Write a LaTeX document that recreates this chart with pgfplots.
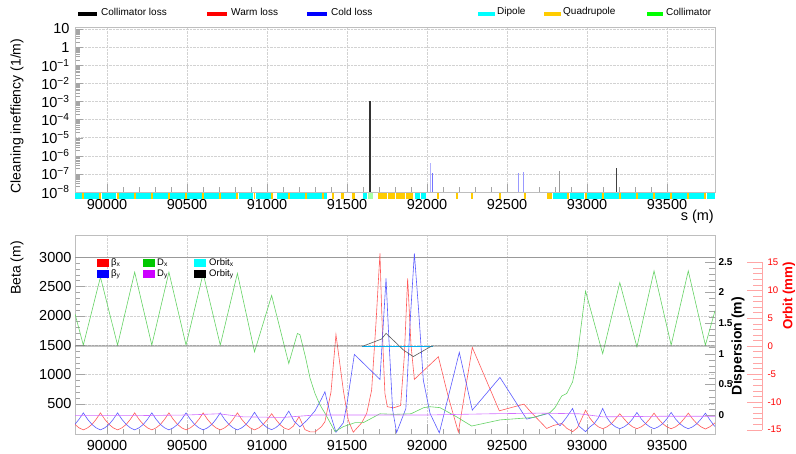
\documentclass[border=0pt]{standalone}
\usepackage{fontspec}
\setmainfont{Liberation Sans}
\usepackage{pgfplots}
\pgfplotsset{compat=1.18}
\definecolor{framegray}{RGB}{190,190,190}
\definecolor{tickgray}{RGB}{165,165,165}
\definecolor{quadorange}{RGB}{255,204,0}
\definecolor{dipcyan}{RGB}{0,255,255}
\definecolor{bxred}{RGB}{255,90,90}
\definecolor{byblue}{RGB}{90,90,255}
\definecolor{dxgreen}{RGB}{100,210,100}
\definecolor{dymag}{RGB}{210,110,255}
\definecolor{legmag}{RGB}{204,0,255}
\definecolor{leggreen}{RGB}{0,200,0}
\definecolor{colgreen}{RGB}{0,255,0}
\begin{document}
\begin{tikzpicture}
\useasboundingbox (0pt,0pt) rectangle (796pt,453pt);
% ---------------- top panel ----------------
\begin{axis}[at={(75pt,261pt)}, anchor=south west, scale only axis, width=640pt, height=165pt,
 xmin=89800, xmax=93800, ymode=log, ymin=1e-8, ymax=12.9,
 axis line style={framegray},
 xtick={90000,90500,91000,91500,92000,92500,93000,93500},
 xticklabels={90000,90500,91000,91500,92000,92500,93000,93500},
 minor x tick num=4, scaled x ticks=false,
 ytick={1e-8,1e-7,1e-6,1e-5,1e-4,1e-3,1e-2,1e-1,1,10},
 yticklabels={10\textsuperscript{−8},10\textsuperscript{−7},10\textsuperscript{−6},10\textsuperscript{−5},10\textsuperscript{−4},10\textsuperscript{−3},10\textsuperscript{−2},10\textsuperscript{−1},1,10},
 minor ytick={2e-8,3e-8,4e-8,5e-8,6e-8,7e-8,8e-8,9e-8,2e-7,3e-7,4e-7,5e-7,6e-7,7e-7,8e-7,9e-7,2e-6,3e-6,4e-6,5e-6,6e-6,7e-6,8e-6,9e-6,2e-5,3e-5,4e-5,5e-5,6e-5,7e-5,8e-5,9e-5,2e-4,3e-4,4e-4,5e-4,6e-4,7e-4,8e-4,9e-4,2e-3,3e-3,4e-3,5e-3,6e-3,7e-3,8e-3,9e-3,2e-2,3e-2,4e-2,5e-2,6e-2,7e-2,8e-2,9e-2,0.2,0.3,0.4,0.5,0.6,0.7,0.8,0.9,2,3,4,5,6,7,8,9},
 xtick pos=left, ytick pos=left, tick align=inside,
 major tick length=8pt, minor tick length=5pt, tick style={tickgray},
 grid=major, major grid style={densely dotted, gray!35},
 tick label style={font=\fontsize{14.5}{16}\selectfont},
 xticklabel style={yshift=-4pt}, yticklabel style={xshift=-2pt},
]
\addplot[black!80, line width=1.1pt] coordinates {(91644,1e-8) (91644,1e-3)};
\addplot[black!75, line width=0.8pt] coordinates {(93183,1e-8) (93183,2.2e-7)};
\addplot[black!40, line width=0.8pt] coordinates {(92827,1e-8) (92827,1.5e-7)};
\addplot[blue!30, line width=0.8pt] coordinates {(92019,1e-8) (92019,4e-7)};
\addplot[blue!55, line width=0.8pt] coordinates {(92033,1e-8) (92033,1.1e-7)};
\addplot[blue!40, line width=0.8pt] coordinates {(92571,1e-8) (92571,1.1e-7)};
\addplot[blue!40, line width=0.8pt] coordinates {(92602,1e-8) (92602,1.3e-7)};
\end{axis}
% ---------------- element bars ----------------
\begin{axis}[at={(75pt,254pt)}, anchor=south west, scale only axis, width=640pt, height=6pt,
 xmin=89800, xmax=93800, ymin=0, ymax=1, hide axis, clip=false]
\addplot[dipcyan, line width=5.5pt, line cap=butt, unbounded coords=jump] coordinates {
(89800,0.5) (89845,0.5) (89845,nan) (89859,0.5) (89952,0.5) (89952,nan)
(89966,0.5) (90059,0.5) (90059,nan) (90073,0.5) (90166,0.5) (90166,nan)
(90180,0.5) (90273,0.5) (90273,nan) (90287,0.5) (90380,0.5) (90380,nan)
(90394,0.5) (90487,0.5) (90487,nan) (90501,0.5) (90594,0.5) (90594,nan)
(90608,0.5) (90701,0.5) (90701,nan) (90715,0.5) (90808,0.5) (90808,nan)
(90822,0.5) (90915,0.5) (90915,nan) (90929,0.5) (91022,0.5) (91022,nan)
(91062,0.5) (91129,0.5) (91129,nan) (91143,0.5) (91236,0.5) (91236,nan)
(91250,0.5) (91343,0.5) (91343,nan) (91357,0.5) (91373,0.5) (91373,nan)
(91598,0.5) (91627,0.5) (91627,nan) (91925,0.5) (91956,0.5) (91956,nan)
(91962,0.5) (91992,0.5) (91992,nan) (92790,0.5) (92877,0.5) (92877,nan)
(92891,0.5) (92984,0.5) (92984,nan) (92998,0.5) (93091,0.5) (93091,nan)
(93105,0.5) (93198,0.5) (93198,nan) (93212,0.5) (93305,0.5) (93305,nan)
(93319,0.5) (93412,0.5) (93412,nan) (93426,0.5) (93519,0.5) (93519,nan)
(93533,0.5) (93626,0.5) (93626,nan) (93640,0.5) (93733,0.5) (93733,nan)
(93747,0.5) (93800,0.5)};
\addplot[quadorange, line width=5.5pt, line cap=butt, unbounded coords=jump] coordinates {
(89846,0.5) (89858,0.5) (89858,nan) (89953,0.5) (89965,0.5) (89965,nan)
(90060,0.5) (90072,0.5) (90072,nan) (90167,0.5) (90179,0.5) (90179,nan)
(90274,0.5) (90286,0.5) (90286,nan) (90381,0.5) (90393,0.5) (90393,nan)
(90488,0.5) (90500,0.5) (90500,nan) (90595,0.5) (90607,0.5) (90607,nan)
(90702,0.5) (90714,0.5) (90714,nan) (90809,0.5) (90821,0.5) (90821,nan)
(90916,0.5) (90928,0.5) (90928,nan) (91023,0.5) (91035,0.5) (91035,nan)
(91130,0.5) (91142,0.5) (91142,nan) (91237,0.5) (91249,0.5) (91249,nan)
(91344,0.5) (91356,0.5) (91356,nan) (91404,0.5) (91420,0.5) (91420,nan)
(91465,0.5) (91481,0.5) (91481,nan) (91532,0.5) (91548,0.5) (91548,nan)
(91694,0.5) (91750,0.5) (91750,nan) (91758,0.5) (91800,0.5) (91800,nan)
(91808,0.5) (91860,0.5) (91860,nan) (91868,0.5) (91915,0.5) (91915,nan)
(92065,0.5) (92077,0.5) (92077,nan) (92179,0.5) (92191,0.5) (92191,nan)
(92273,0.5) (92285,0.5) (92285,nan) (92450,0.5) (92462,0.5) (92462,nan)
(92606,0.5) (92618,0.5) (92618,nan) (92750,0.5) (92783,0.5) (92783,nan)
(92878,0.5) (92890,0.5) (92890,nan) (92985,0.5) (92997,0.5) (92997,nan)
(93092,0.5) (93104,0.5) (93104,nan) (93199,0.5) (93211,0.5) (93211,nan)
(93306,0.5) (93318,0.5) (93318,nan) (93413,0.5) (93425,0.5) (93425,nan)
(93520,0.5) (93532,0.5) (93532,nan) (93627,0.5) (93639,0.5) (93639,nan)
(93734,0.5) (93746,0.5)};
\addplot[colgreen!35, line width=5.5pt, line cap=butt] coordinates {(91632,0.5) (91662,0.5)};
\end{axis}
% ---------------- bottom panel: beta ----------------
\begin{axis}[at={(75pt,19pt)}, anchor=south west, scale only axis, width=640pt, height=199pt,
 xmin=89800, xmax=93800, ymin=-15, ymax=3375,
 axis line style={framegray},
 xtick={90000,90500,91000,91500,92000,92500,93000,93500},
 xticklabels={90000,90500,91000,91500,92000,92500,93000,93500},
 minor x tick num=4, scaled ticks=false,
 ytick={500,1000,1500,2000,2500,3000}, yticklabels={500,1000,1500,2000,2500,3000},
 minor y tick num=4,
 xtick pos=left, ytick pos=left, tick align=inside,
 major tick length=10pt, minor tick length=5pt, tick style={tickgray},
 grid=major, major grid style={densely dotted, gray!35},
 tick label style={font=\fontsize{14.5}{16}\selectfont},
 xticklabel style={yshift=-3pt},
]
\addplot[gray!80, line width=0.6pt] coordinates {(89800,3000) (93800,3000)};
\addplot[bxred, line width=0.6pt] coordinates {
(89800,148) (89825,90) (89852,55) (89879,90) (89906,148) (89932,235) (89959,345) (89986,235)
(90013,148) (90039,90) (90066,55) (90093,90) (90120,148) (90146,235) (90173,345) (90200,235)
(90227,148) (90253,90) (90280,55) (90307,90) (90334,148) (90360,235) (90387,345) (90414,235)
(90441,148) (90467,90) (90494,55) (90521,90) (90548,148) (90574,235) (90601,345) (90628,235)
(90655,148) (90681,90) (90708,55) (90735,90) (90762,148) (90788,235) (90815,345) (90842,235)
(90869,148) (90895,90) (90922,55) (90949,90) (90976,148) (91002,230) (91029,330) (91056,230)
(91083,140) (91109,85) (91136,60) (91165,120) (91200,280) (91237,60) (91270,20) (91300,20)
(91340,110) (91362,193) (91400,700) (91431,1680) (91477,733) (91508,221) (91539,15) (91592,176)
(91623,335) (91654,733) (91681,1869) (91706,3063) (91716,2153) (91727,1301) (91737,676) (91752,450)
(91790,430) (91835,470) (91858,1300) (91879,2636) (91900,1500) (91921,915) (92071,1301) (92133,619)
(92196,15) (92283,1460) (92452,380) (92606,494) (92644,375) (92748,79) (92790,130) (92842,165)
(92875,80) (92910,25) (92940,90) (92964,230) (92991,390) (93018,255) (93045,165) (93071,107)
(93098,75) (93125,107) (93152,161) (93178,242) (93205,330) (93232,242) (93259,161) (93285,107)
(93312,75) (93339,107) (93366,161) (93392,242) (93419,340) (93446,242) (93473,161) (93499,107)
(93526,75) (93553,107) (93580,161) (93606,242) (93633,340) (93660,242) (93687,161) (93713,107)
(93740,70) (93767,107) (93794,161) (93800,175)};
\addplot[byblue, line width=0.6pt] coordinates {
(89800,150) (89825,235) (89852,345) (89879,235) (89906,148) (89932,90) (89959,55) (89986,90)
(90013,148) (90039,235) (90066,345) (90093,235) (90120,148) (90146,90) (90173,55) (90200,90)
(90227,148) (90253,235) (90280,345) (90307,235) (90334,148) (90360,90) (90387,55) (90414,90)
(90441,148) (90467,235) (90494,345) (90521,235) (90548,148) (90574,90) (90601,55) (90628,90)
(90655,148) (90681,235) (90708,345) (90735,235) (90762,148) (90788,90) (90815,55) (90842,90)
(90869,148) (90895,240) (90922,355) (90949,240) (90976,150) (91002,92) (91029,58) (91056,95)
(91083,160) (91109,260) (91136,375) (91170,200) (91206,107) (91250,220) (91300,380) (91340,580)
(91362,704) (91395,330) (91431,15) (91477,176) (91500,500) (91546,1341) (91706,915) (91744,2636)
(91760,1700) (91785,400) (91810,10) (91868,420) (91894,1869) (91921,3063) (91946,2153) (91977,903)
(92019,335) (92077,5) (92133,619) (92202,1375) (92283,392) (92456,949) (92623,238) (92758,335)
(92831,125) (92870,260) (92910,420) (92950,120) (92991,25) (93018,107) (93045,161) (93071,260)
(93098,420) (93125,260) (93152,161) (93178,107) (93205,75) (93232,107) (93259,161) (93285,242)
(93312,352) (93339,242) (93366,161) (93392,107) (93419,75) (93446,107) (93473,161) (93499,242)
(93526,352) (93553,242) (93580,161) (93606,107) (93633,75) (93660,107) (93687,161) (93713,242)
(93740,340) (93767,230) (93794,130) (93800,115)};
\end{axis}
% ---------------- bottom panel: dispersion ----------------
\begin{axis}[at={(75pt,19pt)}, anchor=south west, scale only axis, width=640pt, height=199pt,
 xmin=89800, xmax=93800, ymin=-0.31, ymax=2.936,
 axis x line=none, axis y line*=right, y axis line style={draw=none},
 ytick={0,0.5,1,1.5,2,2.5}, yticklabels={0,0.5,1,1.5,2,2.5}, minor y tick num=4,
 tick align=inside, major tick length=10pt, minor tick length=6pt, tick style={tickgray},
 yticklabel style={font=\bfseries\fontsize{10}{12}\selectfont},
]
\addplot[dxgreen, line width=0.6pt] coordinates {
(89800,1.65) (89852,1.14) (89959,2.25) (90066,1.14) (90173,2.33) (90280,1.14) (90387,2.33)
(90494,1.14) (90601,2.31) (90708,1.14) (90815,2.31) (90922,1.03) (91029,1.95) (91136,0.84)
(91190,1.33) (91206,1.31) (91240,0.95) (91269,0.60) (91300,0.35) (91330,0.17) (91362,0.03)
(91425,-0.27) (91477,-0.19) (91550,-0.125) (91602,-0.125) (91706,0.02) (91800,0.01) (91900,0.02)
(91980,0.12) (92019,0.135) (92081,0.12) (92185,-0.03) (92279,-0.18) (92456,-0.08) (92665,-0.04)
(92769,0.04) (92800,0.12) (92842,0.31) (92873,0.35) (92910,0.54) (92935,0.87) (92956,1.30)
(92991,2.02) (93098,1.00) (93205,2.16) (93312,1.11) (93419,2.35) (93526,1.14) (93633,2.35)
(93740,1.14) (93800,1.70)};
\addplot[dymag, line width=0.6pt] coordinates {
(89800,-0.01) (90200,-0.01) (90500,0.0) (90700,0.02) (90850,-0.03) (91100,-0.04) (91300,0.0)
(91700,0.0) (92000,0.0) (92400,0.02) (92700,0.03) (92950,0.02) (93100,-0.03) (93500,-0.02)
(93800,-0.02)};
\end{axis}
% ---------------- bottom panel: orbit ----------------
\begin{axis}[at={(75pt,19pt)}, anchor=south west, scale only axis, width=687pt, height=199pt,
 xmin=89800, xmax=94093.75, ymin=-15.77, ymax=19.89, clip=false,
 axis x line=none, axis y line*=right, y axis line style={draw=none},
 ytick={-15,-10,-5,0,5,10,15}, yticklabels={-15,-10,-5,0,5,10,15}, minor y tick num=4,
 tick align=inside, major tick length=15pt, minor tick length=9pt, tick style={red!35},
 yticklabel style={red, font=\fontsize{9.6}{11}\selectfont, xshift=2pt},
]
\addplot[red!35, line width=0.6pt] coordinates {(94093.75,-15) (94093.75,15)};
\addplot[cyan, line width=0.6pt] coordinates {(91595,0) (92035,0)};
\addplot[black!65, line width=0.6pt] coordinates {
(89800,0) (91602,0) (91716,1.25) (91744,2.26) (91810,0.47) (91852,-0.7) (91914,-1.9) (92029,0) (93800,0)};
\end{axis}
% ---------------- titles ----------------
\node[rotate=90, font=\fontsize{14}{16}\selectfont] at (17pt,337pt) {Cleaning ineffiency (1/m)};
\node[rotate=90, font=\fontsize{14}{16}\selectfont] at (17pt,185pt) {Beta (m)};
\node[anchor=east, font=\fontsize{14.5}{16}\selectfont, inner sep=0] at (714pt,236pt) {s (m)};
\node[rotate=90, font=\bfseries\fontsize{14}{16}\selectfont] at (738pt,107pt) {Dispersion (m)};
\node[rotate=90, red, font=\bfseries\fontsize{13.3}{15}\selectfont] at (789pt,157pt) {Orbit (mm)};
% ---------------- top legend ----------------
\begin{scope}[every node/.style={anchor=west, inner sep=0, font=\fontsize{10}{12}\selectfont}]
\fill[black] (78pt,437.3pt) rectangle (97pt,440.7pt); \node at (101pt,441pt) {Collimator loss};
\fill[red] (207pt,437.3pt) rectangle (227pt,440.7pt); \node at (231pt,441pt) {Warm loss};
\fill[blue] (307pt,437.3pt) rectangle (327pt,440.7pt); \node at (331pt,441pt) {Cold loss};
\fill[dipcyan] (478pt,437.3pt) rectangle (495pt,440.7pt); \node at (497pt,441pt) {Dipole};
\fill[quadorange] (544pt,437.3pt) rectangle (561pt,440.7pt); \node at (563pt,441pt) {Quadrupole};
\fill[colgreen] (647pt,437.3pt) rectangle (663pt,440.7pt); \node at (666pt,441pt) {Collimator};
\end{scope}
% ---------------- bottom legend ----------------
\begin{scope}[every node/.style={anchor=west, inner sep=0, font=\fontsize{9.5}{11}\selectfont}]
\fill[red] (97pt,186.3pt) rectangle (109pt,193.7pt); \node at (111pt,190pt) {β\textsubscript{x}};
\fill[blue] (97pt,175pt) rectangle (109pt,183pt); \node at (111pt,179pt) {β\textsubscript{y}};
\fill[leggreen] (143pt,186.3pt) rectangle (155pt,193.7pt); \node at (157pt,190pt) {D\textsubscript{x}};
\fill[legmag] (143pt,175pt) rectangle (155pt,183pt); \node at (157pt,179pt) {D\textsubscript{y}};
\fill[dipcyan] (194pt,186.3pt) rectangle (206pt,193.7pt); \node at (209pt,190pt) {Orbit\textsubscript{x}};
\fill[black] (194pt,175pt) rectangle (206pt,183pt); \node at (209pt,179pt) {Orbit\textsubscript{y}};
\end{scope}
\end{tikzpicture}
\end{document}
